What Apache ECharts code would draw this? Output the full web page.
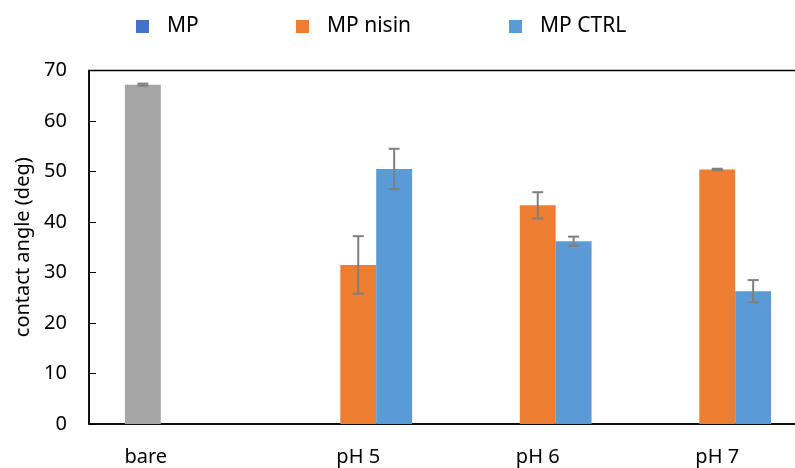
<!DOCTYPE html>
<html>
<head>
<meta charset="utf-8">
<script src="https://cdn.jsdelivr.net/npm/echarts@6/dist/echarts.min.js"></script>
<style>
  html, body { margin: 0; padding: 0; background: #fff; }
  #chart { width: 795px; height: 468px; }
</style>
</head>
<body>
<div id="chart"></div>
<script>
// Contact angle measurements (degrees), mean and standard deviation
const categories = ['bare', 'pH 5', 'pH 6', 'pH 7'];
const seriesNames = ['MP', 'MP nisin', 'MP CTRL'];
const mpValues = [67.2, null, null, null];
const mpErrors = [0.2, null, null, null];
const nisinValues = [null, 31.5, 43.3, 50.4];
const nisinErrors = [null, 5.7, 2.6, 0.15];
const ctrlValues = [null, 50.5, 36.2, 26.3];
const ctrlErrors = [null, 4.0, 0.9, 2.2];
const yTicks = [0, 10, 20, 30, 40, 50, 60, 70];

const colors = { mp: '#4472c4', bare: '#a5a5a5', nisin: '#ed7d31', ctrl: '#5b9bd5', err: '#7f7f7f' };
const FONT = 'Noto Sans';

// Each category band holds three bars side by side, each a fifth of the band.
const BAR_FRACTION = 0.2;

function barData(values, itemColor) {
  return values.map(v => v == null ? '-' : (itemColor ? { value: v, itemStyle: { color: itemColor } } : v));
}

function errorSeries(values, errors, slot) {
  const data = [];
  values.forEach((v, i) => { if (v != null) data.push([i, v, errors[i]]); });
  return {
    type: 'custom',
    name: 'err' + slot,
    silent: true,
    z: 5,
    data: data,
    encode: { x: 0, y: 1 },
    renderItem: function (params, api) {
      const idx = api.value(0), mean = api.value(1), sd = api.value(2);
      const band = api.size([1, 0])[0];
      const dx = slot * BAR_FRACTION * band;
      const hi = api.coord([idx, mean + sd]);
      const lo = api.coord([idx, mean - sd]);
      const x = hi[0] + dx;
      const cap = 5.5;
      const style = { stroke: colors.err, lineWidth: 2, fill: null };
      return {
        type: 'group',
        children: [
          { type: 'line', shape: { x1: x, y1: hi[1], x2: x, y2: lo[1] }, style: style },
          { type: 'line', shape: { x1: x - cap, y1: hi[1], x2: x + cap, y2: hi[1] }, style: style },
          { type: 'line', shape: { x1: x - cap, y1: lo[1], x2: x + cap, y2: lo[1] }, style: style }
        ]
      };
    }
  };
}

function legendFor(name, left) {
  return {
    data: [name],
    left: left,
    top: 11,
    itemWidth: 13,
    itemHeight: 13,
    icon: 'rect',
    textStyle: { fontFamily: FONT, fontSize: 21, color: '#000', padding: [0, 0, 0, 13] }
  };
}

const chart = echarts.init(document.getElementById('chart'), null, { renderer: 'canvas' });
chart.setOption({
  animation: false,
  color: [colors.mp, colors.nisin, colors.ctrl],
  legend: [
    legendFor(seriesNames[0], 131),
    legendFor(seriesNames[1], 291),
    legendFor(seriesNames[2], 504)
  ],
  grid: {
    left: 89, top: 70.5, bottom: 44, right: -12,
    outerBoundsMode: 'none',
    containLabel: false,
    show: true, borderColor: '#000', borderWidth: 1.5, backgroundColor: 'transparent'
  },
  xAxis: {
    type: 'category',
    data: categories.map((c, i) => i === 0
      ? { value: c, textStyle: { padding: [0, 66, 0, 0] } }
      : c),
    axisLine: { lineStyle: { color: '#000', width: 1.5 } },
    axisTick: { show: false },
    axisLabel: { fontFamily: FONT, fontSize: 20, color: '#000', margin: 23 },
    splitLine: { show: false }
  },
  yAxis: {
    type: 'value',
    min: yTicks[0],
    max: yTicks[yTicks.length - 1],
    interval: yTicks[1] - yTicks[0],
    name: 'contact angle (deg)',
    nameLocation: 'middle',
    nameRotate: 90,
    nameGap: 50,
    nameTextStyle: { fontFamily: FONT, fontSize: 20, color: '#000' },
    axisLine: { show: true, lineStyle: { color: '#000', width: 1.5 } },
    axisTick: { show: true, inside: true, length: 7, lineStyle: { color: '#000', width: 1 } },
    axisLabel: { fontFamily: FONT, fontSize: 20, color: '#000', margin: 22 },
    splitLine: { show: false }
  },
  series: [
    { type: 'bar', name: seriesNames[0], data: barData(mpValues, colors.bare), barGap: '0%', barCategoryGap: '40%', itemStyle: { color: colors.mp } },
    { type: 'bar', name: seriesNames[1], data: barData(nisinValues), barGap: '0%', barCategoryGap: '40%', itemStyle: { color: colors.nisin } },
    { type: 'bar', name: seriesNames[2], data: barData(ctrlValues), barGap: '0%', barCategoryGap: '40%', itemStyle: { color: colors.ctrl } },
    errorSeries(mpValues, mpErrors, -1),
    errorSeries(nisinValues, nisinErrors, 0),
    errorSeries(ctrlValues, ctrlErrors, 1)
  ]
});
</script>
</body>
</html>
